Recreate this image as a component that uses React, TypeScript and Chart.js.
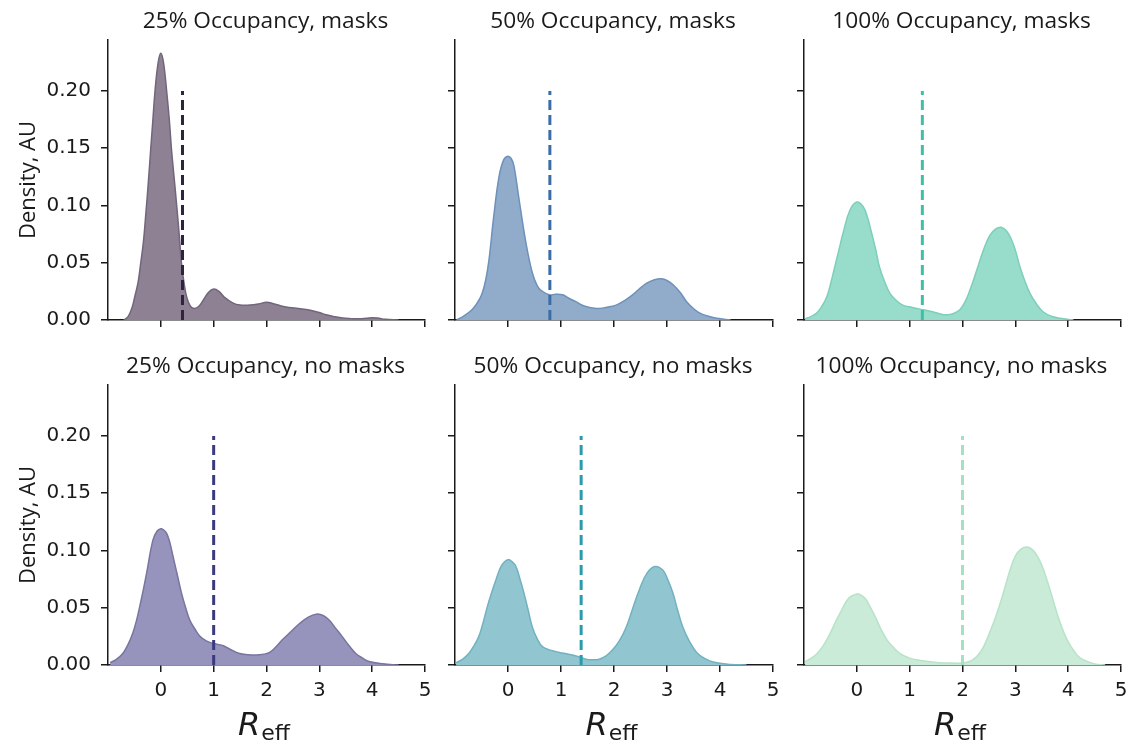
import React, { useEffect, useRef } from "react";
import { Chart, registerables } from "chart.js";

Chart.register(...registerables);

// ---------- data ----------
const panelTitles = [
  "25% Occupancy, masks",
  "50% Occupancy, masks",
  "100% Occupancy, masks",
  "25% Occupancy, no masks",
  "50% Occupancy, no masks",
  "100% Occupancy, no masks",
];

const yTicks = [0, 0.05, 0.1, 0.15, 0.2];
const xTicks = [0, 1, 2, 3, 4, 5];
const xRange = [-1, 5];
const yRange = [0, 0.2445];

// reference lines (R_eff), drawn from 0 up to dashTop
const dashX = [0.41, 0.79, 1.24, 1.0, 1.38, 2.0];
const dashTop = 0.2;

// 25% occupancy, masks
const x25m = [-0.7, -0.62, -0.55, -0.49, -0.43, -0.38, -0.33, -0.28, -0.24, -0.19, -0.15, -0.11, -0.05, 0, 0.05, 0.11, 0.16, 0.2, 0.25, 0.3, 0.35, 0.39, 0.44, 0.49, 0.56, 0.64, 0.72, 0.8, 0.9, 1.0, 1.1, 1.2, 1.36, 1.5, 1.68, 1.85, 2.0, 2.15, 2.3, 2.43, 2.6, 2.81, 3.0, 3.13, 3.3, 3.44, 3.6, 3.75, 3.9, 4.0, 4.1, 4.25, 4.5];
const y25m = [0, 0.003, 0.01, 0.021, 0.033, 0.05, 0.068, 0.095, 0.118, 0.15, 0.175, 0.2, 0.225, 0.233, 0.225, 0.2, 0.175, 0.15, 0.125, 0.1, 0.073, 0.05, 0.032, 0.02, 0.012, 0.01, 0.012, 0.017, 0.024, 0.027, 0.025, 0.02, 0.015, 0.013, 0.013, 0.014, 0.0155, 0.014, 0.012, 0.011, 0.01, 0.0087, 0.0065, 0.0045, 0.0028, 0.0017, 0.0012, 0.001, 0.0016, 0.002, 0.0017, 0.0006, 0];

// 50% occupancy, masks
const x50m = [-0.97, -0.85, -0.68, -0.58, -0.49, -0.42, -0.36, -0.27, -0.17, -0.08, 0, 0.06, 0.11, 0.21, 0.34, 0.46, 0.55, 0.62, 0.78, 0.9, 1.03, 1.15, 1.28, 1.45, 1.67, 1.85, 2.04, 2.2, 2.35, 2.5, 2.61, 2.75, 2.9, 3.0, 3.11, 3.25, 3.37, 3.5, 3.62, 3.8, 3.94, 4.2];
const y50m = [0, 0.003, 0.009, 0.015, 0.023, 0.035, 0.052, 0.09, 0.125, 0.14, 0.143, 0.141, 0.135, 0.105, 0.067, 0.041, 0.03, 0.026, 0.022, 0.0225, 0.022, 0.019, 0.016, 0.012, 0.01, 0.011, 0.013, 0.017, 0.022, 0.028, 0.032, 0.035, 0.036, 0.0345, 0.031, 0.024, 0.016, 0.01, 0.006, 0.003, 0.0015, 0];

// 100% occupancy, masks
const x100m = [-0.98, -0.87, -0.76, -0.66, -0.57, -0.5, -0.42, -0.34, -0.26, -0.13, 0, 0.12, 0.2, 0.28, 0.36, 0.43, 0.53, 0.63, 0.75, 0.87, 1.05, 1.25, 1.45, 1.6, 1.7, 1.82, 1.95, 2.05, 2.14, 2.23, 2.33, 2.42, 2.52, 2.63, 2.73, 2.83, 2.92, 3.0, 3.09, 3.18, 3.28, 3.4, 3.53, 3.7, 3.85, 4.1];
const y100m = [0.001, 0.003, 0.006, 0.012, 0.02, 0.031, 0.046, 0.061, 0.076, 0.096, 0.103, 0.099, 0.09, 0.076, 0.061, 0.046, 0.033, 0.023, 0.017, 0.013, 0.011, 0.009, 0.007, 0.005, 0.0045, 0.0055, 0.009, 0.016, 0.026, 0.038, 0.052, 0.064, 0.074, 0.0795, 0.081, 0.078, 0.071, 0.061, 0.046, 0.034, 0.023, 0.014, 0.007, 0.003, 0.0015, 0];

// 25% occupancy, no masks
const x25n = [-0.96, -0.84, -0.72, -0.62, -0.53, -0.46, -0.4, -0.33, -0.27, -0.15, -0.07, 0, 0.05, 0.11, 0.17, 0.23, 0.31, 0.39, 0.47, 0.55, 0.65, 0.74, 0.86, 0.98, 1.08, 1.17, 1.3, 1.49, 1.65, 1.81, 1.95, 2.06, 2.18, 2.3, 2.46, 2.62, 2.8, 2.96, 3.08, 3.19, 3.31, 3.43, 3.56, 3.69, 3.82, 3.94, 4.2, 4.5];
const y25n = [0.002, 0.005, 0.01, 0.018, 0.028, 0.039, 0.051, 0.066, 0.08, 0.109, 0.117, 0.119, 0.118, 0.115, 0.107, 0.095, 0.079, 0.063, 0.05, 0.039, 0.031, 0.025, 0.021, 0.019, 0.018, 0.017, 0.014, 0.01, 0.009, 0.0087, 0.0095, 0.011, 0.016, 0.022, 0.029, 0.036, 0.042, 0.0445, 0.043, 0.039, 0.032, 0.025, 0.017, 0.01, 0.006, 0.003, 0.001, 0];

// 50% occupancy, no masks
const x50n = [-0.98, -0.86, -0.74, -0.64, -0.55, -0.47, -0.39, -0.31, -0.23, -0.12, 0, 0.08, 0.15, 0.22, 0.3, 0.38, 0.46, 0.55, 0.65, 0.8, 0.97, 1.1, 1.22, 1.35, 1.47, 1.6, 1.72, 1.85, 1.97, 2.1, 2.23, 2.35, 2.48, 2.62, 2.77, 2.92, 3.01, 3.11, 3.2, 3.3, 3.43, 3.56, 3.7, 3.87, 4.2, 4.5];
const y50n = [0.002, 0.005, 0.01, 0.017, 0.025, 0.037, 0.051, 0.063, 0.074, 0.087, 0.092, 0.09, 0.086, 0.076, 0.063, 0.048, 0.033, 0.023, 0.016, 0.013, 0.011, 0.0098, 0.0087, 0.007, 0.005, 0.0045, 0.005, 0.008, 0.013, 0.021, 0.033, 0.049, 0.066, 0.08, 0.086, 0.083, 0.075, 0.063, 0.048, 0.033, 0.02, 0.011, 0.006, 0.0026, 0.0005, 0];

// 100% occupancy, no masks
const x100n = [-0.98, -0.86, -0.75, -0.62, -0.5, -0.41, -0.32, -0.16, 0, 0.08, 0.16, 0.25, 0.35, 0.46, 0.57, 0.7, 0.82, 1.0, 1.2, 1.4, 1.58, 1.8, 1.95, 2.08, 2.18, 2.3, 2.4, 2.52, 2.65, 2.78, 2.9, 3.0, 3.1, 3.23, 3.34, 3.43, 3.52, 3.6, 3.7, 3.79, 3.88, 3.98, 4.1, 4.23, 4.5, 4.7];
const y100n = [0.003, 0.006, 0.01, 0.018, 0.028, 0.037, 0.045, 0.058, 0.062, 0.061, 0.058, 0.051, 0.042, 0.031, 0.022, 0.015, 0.01, 0.006, 0.004, 0.0028, 0.002, 0.0017, 0.0015, 0.0025, 0.004, 0.009, 0.016, 0.029, 0.045, 0.064, 0.083, 0.095, 0.101, 0.103, 0.1, 0.094, 0.085, 0.074, 0.059, 0.045, 0.033, 0.022, 0.013, 0.006, 0.001, 0];

const seriesX = [x25m, x50m, x100m, x25n, x50n, x100n];
const seriesY = [y25m, y50m, y100m, y25n, y50n, y100n];

// ---------- styling ----------
const fillColors = ["#8e8194", "#91acca", "#98dccb", "#9694bd", "#91c5cf", "#c9ebd7"];
const edgeColors = ["#72667c", "#6d91b9", "#7dcfb9", "#78759f", "#72b2c0", "#b7e3c9"];
const dashColors = ["#2d2540", "#3a6da5", "#3fc0a4", "#3c3a7f", "#2c9aad", "#a6e0c3"];

const INK = "#1a1a1a";
const TITLE_FONT = '"Open Sans", "Noto Sans", sans-serif';
const TICK_FONT = '"DejaVu Sans", sans-serif';

// geometry (page pixels)
const colCanvasLeft = [0, 425, 774];
const colAxisWidth = [108, 30, 30];
const colPlotWidth = [317, 318, 317];
const RIGHT_PAD = 8;
const rowCanvasTop = [0, 345];
const rowCanvasHeight = [330, 398];
const rowXAxisHeight = [10, 78];
const TOP_PAD = 40;

const panelTextPlugin = {
  id: "panelText",
  afterDraw(chart: any, _args: any, opts: any) {
    const { ctx, chartArea } = chart;
    const cx = (chartArea.left + chartArea.right) / 2;
    ctx.save();
    ctx.fillStyle = INK;
    ctx.textAlign = "center";
    ctx.textBaseline = "alphabetic";
    ctx.font = `22.7px ${TITLE_FONT}`;
    ctx.fillText(opts.title, cx - 1, 28);
    if (opts.yTitle) {
      ctx.save();
      ctx.translate(35, (chartArea.top + chartArea.bottom) / 2);
      ctx.rotate(-Math.PI / 2);
      ctx.textAlign = "center";
      ctx.font = `22px ${TITLE_FONT}`;
      ctx.fillText("Density, AU", 0, 0);
      ctx.restore();
    }
    if (opts.xTitle) {
      ctx.textAlign = "left";
      const fR = `italic 32px ${TICK_FONT}`;
      const fS = `22px ${TICK_FONT}`;
      ctx.font = fR;
      const wR = ctx.measureText("R").width;
      ctx.font = fS;
      const wS = ctx.measureText("eff").width;
      const x0 = cx - 3 - (wR + wS) / 2;
      const base = chartArea.bottom + 70;
      ctx.font = fR;
      ctx.fillText("R", x0, base);
      ctx.font = fS;
      ctx.fillText("eff", x0 + wR + 1, base + 5);
    }
    ctx.restore();
  },
};

function Panel({ idx }: { idx: number }) {
  const ref = useRef<HTMLCanvasElement | null>(null);
  const col = idx % 3;
  const row = Math.floor(idx / 3);
  const width = colAxisWidth[col] + colPlotWidth[col] + RIGHT_PAD;
  const height = rowCanvasHeight[row];

  useEffect(() => {
    if (!ref.current) return;
    const pts = seriesX[idx].map((x, i) => ({ x, y: seriesY[idx][i] }));
    const dash = [
      { x: dashX[idx], y: 0 },
      { x: dashX[idx], y: dashTop },
    ];
    const axisW = colAxisWidth[col];
    const axisH = rowXAxisHeight[row];
    const chart = new Chart(ref.current, {
      type: "line",
      data: {
        datasets: [
          {
            data: dash,
            borderColor: dashColors[idx],
            borderWidth: 3,
            borderDash: [10, 5],
            pointRadius: 0,
            fill: false,
            order: 0,
          },
          {
            data: pts,
            borderColor: edgeColors[idx],
            backgroundColor: fillColors[idx],
            borderWidth: 1.5,
            pointRadius: 0,
            fill: "origin",
            tension: 0.4,
            order: 1,
          },
        ],
      },
      options: {
        responsive: false,
        animation: false,
        events: [],
        layout: { padding: { top: TOP_PAD, right: RIGHT_PAD, left: 0, bottom: 0 } },
        plugins: {
          legend: { display: false },
          tooltip: { enabled: false },
          title: { display: false },
          panelText: { title: panelTitles[idx], yTitle: col === 0, xTitle: row === 1 },
        } as any,
        scales: {
          x: {
            type: "linear",
            position: "bottom",
            min: xRange[0],
            max: xRange[1],
            afterBuildTicks: (s: any) => {
              s.ticks = xTicks.map((v) => ({ value: v }));
            },
            afterFit: (s: any) => {
              s.height = axisH;
              s.paddingLeft = 0;
              s.paddingRight = 0;
              s.paddingTop = 0;
              s.paddingBottom = 0;
            },
            ticks: {
              display: row === 1,
              autoSkip: false,
              maxRotation: 0,
              padding: 7,
              color: INK,
              font: { family: TICK_FONT, size: 20 },
              callback: (v: any) => String(v),
            },
            grid: {
              display: true,
              drawOnChartArea: false,
              drawTicks: true,
              tickLength: 7,
              color: INK,
              lineWidth: 1.5,
            },
            border: { display: true, color: INK, width: 1.5 },
          },
          y: {
            type: "linear",
            position: "left",
            min: yRange[0],
            max: yRange[1],
            afterBuildTicks: (s: any) => {
              s.ticks = yTicks.map((v) => ({ value: v }));
            },
            afterFit: (s: any) => {
              s.width = axisW;
              s.paddingLeft = 0;
              s.paddingRight = 0;
              s.paddingTop = 0;
              s.paddingBottom = 0;
            },
            ticks: {
              display: col === 0,
              autoSkip: false,
              padding: 10,
              color: INK,
              font: { family: TICK_FONT, size: 20 },
              callback: (v: any) => Number(v).toFixed(2),
            },
            grid: {
              display: true,
              drawOnChartArea: false,
              drawTicks: true,
              tickLength: 7,
              color: INK,
              lineWidth: 1.5,
            },
            border: { display: true, color: INK, width: 1.5 },
          },
        },
      },
      plugins: [panelTextPlugin],
    } as any);
    return () => chart.destroy();
  }, [idx]);

  return (
    <canvas
      ref={ref}
      width={width}
      height={height}
      style={{
        position: "absolute",
        left: colCanvasLeft[col],
        top: rowCanvasTop[row],
        width,
        height,
      }}
    />
  );
}

export default function App() {
  return (
    <div
      style={{
        position: "absolute",
        left: 0,
        top: 0,
        width: 1129,
        height: 743,
        background: "#ffffff",
        overflow: "hidden",
      }}
    >
      {[0, 1, 2, 3, 4, 5].map((i) => (
        <Panel key={i} idx={i} />
      ))}
    </div>
  );
}
